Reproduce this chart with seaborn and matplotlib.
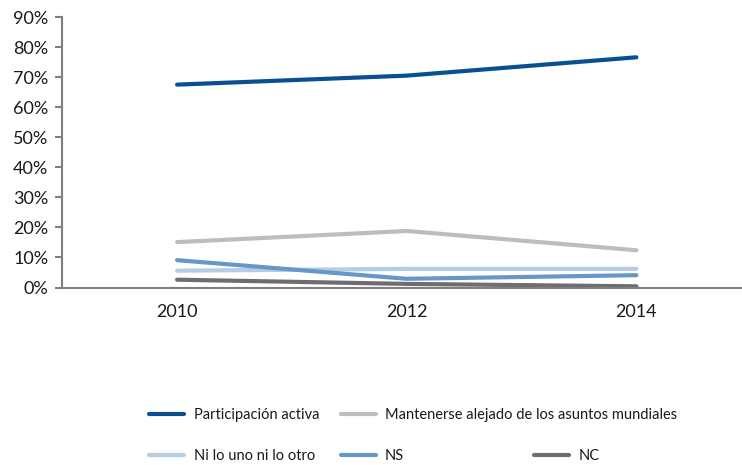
import pandas as pd
import seaborn as sns
import matplotlib.pyplot as plt
from matplotlib.ticker import FuncFormatter

# Data (percent)
years = ["2010", "2012", "2014"]
participacion = [67.5, 70.5, 76.6]
mantenerse = [15.1, 18.8, 12.4]
ni_uno_ni_otro = [5.6, 6.2, 6.2]
ns = [9.1, 2.9, 4.1]
nc = [2.6, 1.2, 0.4]

series_names = ["Participación activa", "Mantenerse alejado de los asuntos mundiales",
                "Ni lo uno ni lo otro", "NS", "NC"]
series_values = [participacion, mantenerse, ni_uno_ni_otro, ns, nc]
colors = ["#0a4f96", "#bdbdbd", "#b5cde4", "#6598c8", "#6e6e70"]

rows = []
for name, vals in zip(series_names, series_values):
    for y, v in zip(years, vals):
        rows.append({"year": y, "value": v, "serie": name})
df = pd.DataFrame(rows)

sns.set_theme(style="white")
plt.rcParams['font.family'] = ['Lato', 'DejaVu Sans']

fig = plt.figure(figsize=(7.42, 4.65), dpi=100)
ax = fig.add_axes([0.0836, 0.3817, 0.9164, 0.5817])

sns.lineplot(data=df, x="year", y="value", hue="serie", hue_order=series_names,
             palette=dict(zip(series_names, colors)), linewidth=3, sort=False,
             legend=True, ax=ax)

ax.set_xlim(-0.501, 2.46)
ax.set_ylim(0, 90)
ax.set_yticks(range(0, 91, 10))
ax.yaxis.set_major_formatter(FuncFormatter(lambda v, p: f"{int(v)}%"))
ax.set_xlabel("")
ax.set_ylabel("")

for side in ["top", "right"]:
    ax.spines[side].set_visible(False)
for side in ["left", "bottom"]:
    ax.spines[side].set_color("#7f7f7f")
    ax.spines[side].set_linewidth(1.5)

ax.tick_params(axis="y", which="major", left=True, length=5, width=1.5, color="#7f7f7f",
               labelsize=13, pad=5, labelcolor="#1a1a1a")
ax.tick_params(axis="x", bottom=False, labelsize=13, pad=6, labelcolor="#1a1a1a")

# Legend: each entry placed on the grid used in the reference
handles, labels = ax.get_legend_handles_labels()
ax.get_legend().remove()
spots = [(0.201, 0.108), (0.459, 0.108), (0.201, 0.02), (0.459, 0.02), (0.720, 0.02)]
for h, l, (x, y) in zip(handles, labels, spots):
    fig.legend([h], [l], loc="center left", bbox_to_anchor=(x, y), frameon=False,
               fontsize=10.5, handlelength=2.4, handletextpad=0.65, borderpad=0,
               borderaxespad=0, labelcolor="#1a1a1a")

fig.savefig("out.png", dpi=100)
